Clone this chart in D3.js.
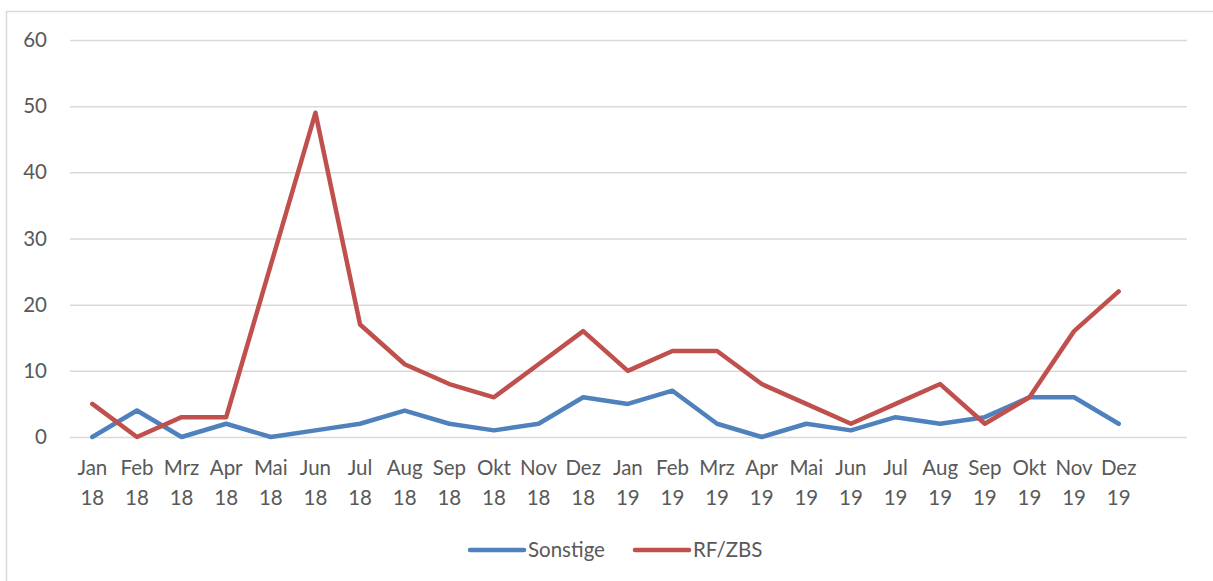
<!DOCTYPE html>
<html>
<head>
<meta charset="utf-8">
<script src="https://cdn.jsdelivr.net/npm/d3@7"></script>
<style>
  body { margin: 0; background: #fff; }
  text { font-family: Lato, "Open Sans", sans-serif; fill: #595959; }
</style>
</head>
<body>
<div id="chart"></div>
<script>
// Monate (Kategorien) und Jahr
const months = ["Jan","Feb","Mrz","Apr","Mai","Jun","Jul","Aug","Sep","Okt","Nov","Dez",
                "Jan","Feb","Mrz","Apr","Mai","Jun","Jul","Aug","Sep","Okt","Nov","Dez"];
const years = ["18","18","18","18","18","18","18","18","18","18","18","18",
               "19","19","19","19","19","19","19","19","19","19","19","19"];
const sonstige = [0,4,0,2,0,1,2,4,2,1,2,6,5,7,2,0,2,1,3,2,3,6,6,2];
const rfzbs = [5,0,3,3,26,49,17,11,8,6,11,16,10,13,13,8,5,2,5,8,2,6,16,22];
const yTicks = [0,10,20,30,40,50,60];

const W = 1213, H = 581;
const margin = {top: 40, right: 26, bottom: 144, left: 70};
const width = W - margin.left - margin.right,
      height = H - margin.top - margin.bottom;
const catWidth = 1071;   // Kategorienbereich (Gitter ist breiter)
const fs = 20.5;

const svg = d3.select("#chart").append("svg")
    .attr("width", W)
    .attr("height", H);

// Rahmen
svg.append("rect")
    .attr("x", 6.5).attr("y", 11.5)
    .attr("width", W).attr("height", H)
    .attr("fill", "none")
    .attr("stroke", "#d9d9d9")
    .attr("stroke-width", 1.5);

const g = svg.append("g")
    .attr("transform", "translate(" + margin.left + "," + margin.top + ")");

const keys = months.map((m, i) => i);
const x = d3.scaleBand().domain(keys).range([0, catWidth]);
const y = d3.scaleLinear().domain([0, 60]).range([height, 0]);

// Gitterlinien
g.selectAll(".grid")
  .data(yTicks)
  .enter().append("line")
    .attr("x1", 0).attr("x2", width)
    .attr("y1", d => y(d) + 0.5).attr("y2", d => y(d) + 0.5)
    .attr("stroke", "#d9d9d9")
    .attr("stroke-width", 1.5);

// Y-Achse
const yAxis = g.append("g")
    .call(d3.axisLeft(y).tickValues(yTicks).tickSize(0).tickPadding(23));
yAxis.select(".domain").remove();
yAxis.selectAll("text").attr("font-size", fs).style("font-family", "Lato, sans-serif").attr("fill", "#595959");

// X-Achse (zweizeilig)
const xAxis = g.append("g")
    .attr("transform", "translate(0," + height + ")")
    .call(d3.axisBottom(x).tickSize(0).tickFormat(""));
xAxis.select(".domain").remove();
xAxis.selectAll(".tick").each(function(d) {
  const t = d3.select(this).append("text")
      .attr("text-anchor", "middle")
      .attr("font-size", fs);
  t.append("tspan").attr("x", 0).attr("y", 38).text(months[d]);
  t.append("tspan").attr("x", 0).attr("y", 68).text(years[d]);
});

const line = d3.line()
    .x((d, i) => x(i) + x.bandwidth() / 2)
    .y(d => y(d));

g.append("path")
    .datum(sonstige)
    .attr("fill", "none")
    .attr("stroke", "#4F81BD")
    .attr("stroke-width", 4.5)
    .attr("stroke-linejoin", "round")
    .attr("stroke-linecap", "round")
    .attr("d", line);

g.append("path")
    .datum(rfzbs)
    .attr("fill", "none")
    .attr("stroke", "#C0504D")
    .attr("stroke-width", 4.5)
    .attr("stroke-linejoin", "round")
    .attr("stroke-linecap", "round")
    .attr("d", line);

// Legende
const legend = [
  {name: "Sonstige", color: "#4F81BD", x: 470},
  {name: "RF/ZBS", color: "#C0504D", x: 635}
];
const lg = svg.selectAll(".legend").data(legend).enter().append("g")
    .attr("transform", d => "translate(" + d.x + ",550)");
lg.append("line")
    .attr("x1", 0).attr("x2", 54)
    .attr("stroke", d => d.color)
    .attr("stroke-width", 4.5)
    .attr("stroke-linecap", "round");
lg.append("text")
    .attr("x", 58).attr("y", 7)
    .attr("font-size", fs)
    .text(d => d.name);
</script>
</body>
</html>
